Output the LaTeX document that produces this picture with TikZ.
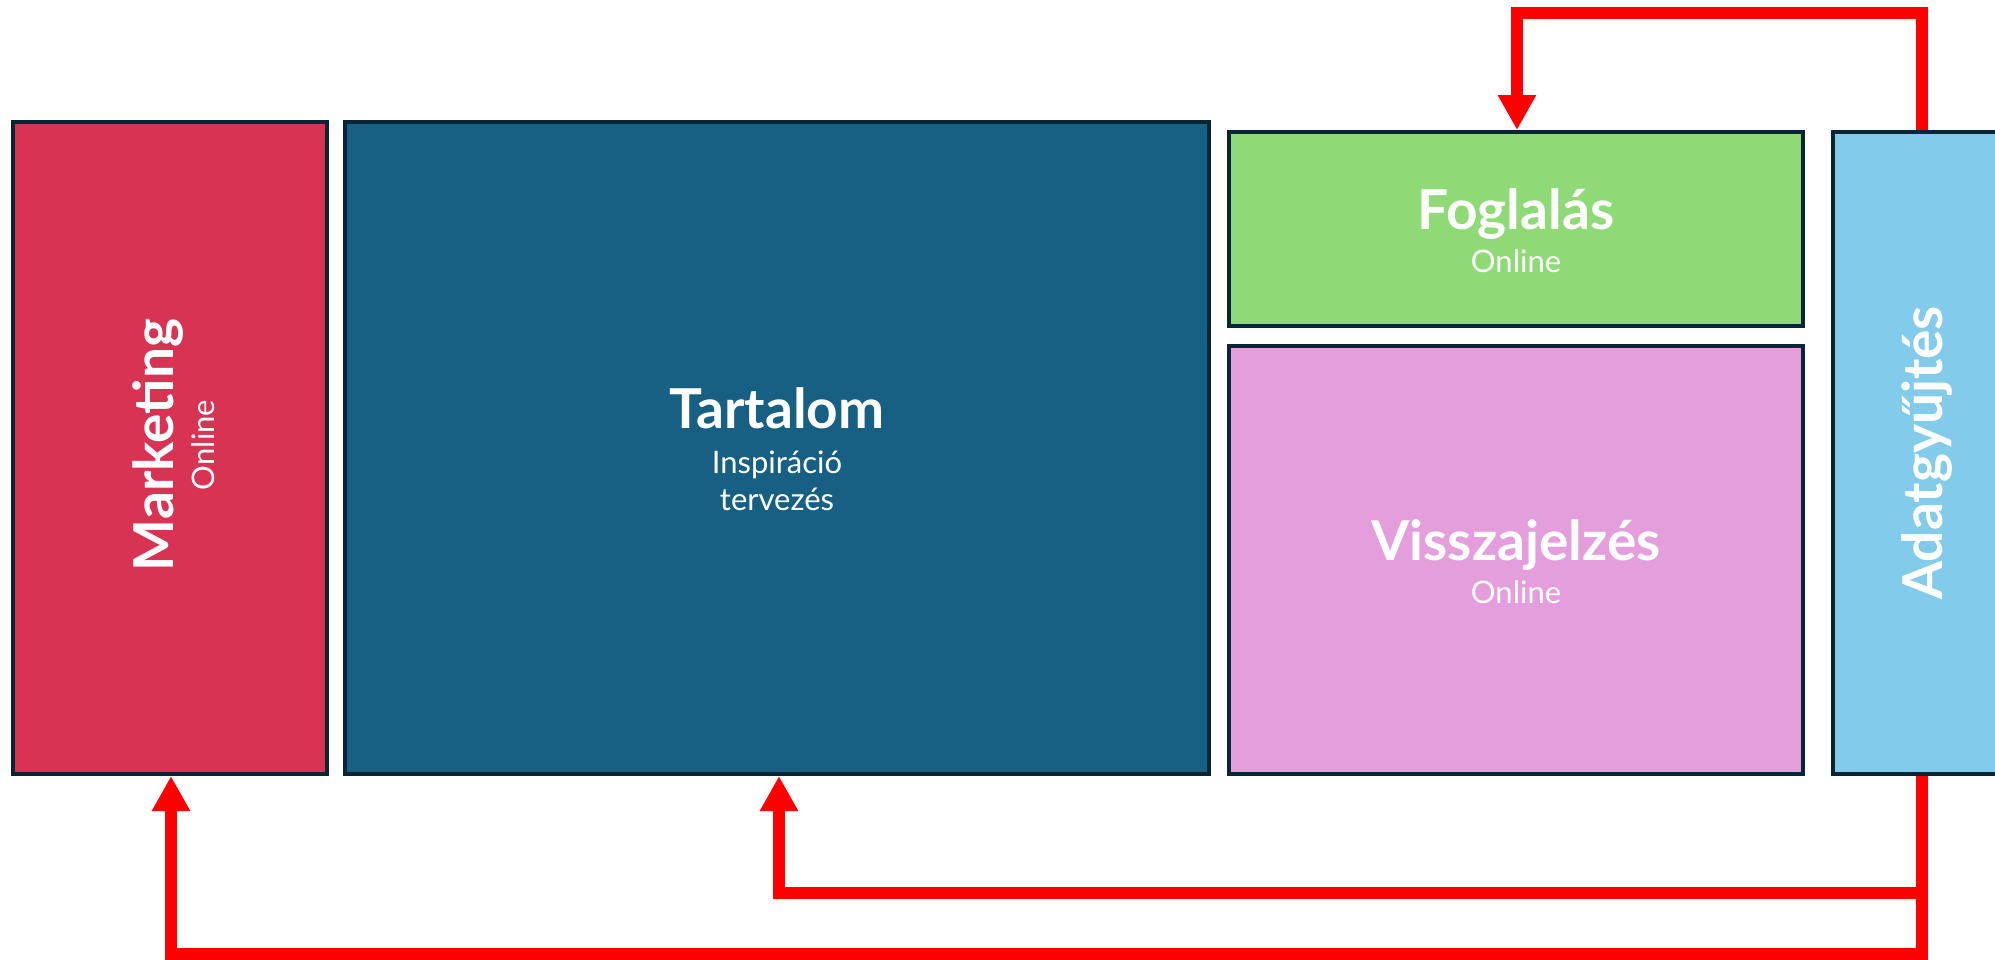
\documentclass[tikz,border=0pt]{standalone}
\usepackage{fontspec}
\setmainfont{Lato}
\usetikzlibrary{arrows.meta}
\definecolor{mktred}{HTML}{D93354}
\definecolor{tealblue}{HTML}{176084}
\definecolor{leafgreen}{HTML}{8FDA77}
\definecolor{orchid}{HTML}{E49EDC}
\definecolor{skyblue}{HTML}{83CBEA}
\definecolor{edgenavy}{HTML}{082535}
\begin{document}
\begin{tikzpicture}[x=1pt,y=-1pt,
  panel/.style={draw=edgenavy, line width=4pt, inner sep=0pt, rectangle},
  title/.style={font=\fontsize{55}{66}\selectfont\bfseries, text=white, anchor=base, inner sep=0pt},
  sub/.style={font=\fontsize{31}{37}\selectfont, text=white, anchor=base, inner sep=0pt},
  flow/.style={draw=red, line width=12pt, -{Triangle[length=35pt,width=36pt]}}]
\useasboundingbox (0,0) rectangle (1995,959);
\clip (0,0) rectangle (1995,959);

% panels
\node[panel, fill=mktred, minimum width=314pt, minimum height=652pt] (mkt) at (170,448) {};
\node[panel, fill=tealblue, minimum width=864pt, minimum height=652pt] (tart) at (777,448) {};
\node[panel, fill=leafgreen, minimum width=574pt, minimum height=194pt] (fogl) at (1516,229) {};
\node[panel, fill=orchid, minimum width=574pt, minimum height=428pt] (vissza) at (1516,560) {};
\node[panel, fill=skyblue, minimum width=184pt, minimum height=642pt] (adat) at (1925,453) {};

% labels
\node[title, rotate=90] (mktT) at (173,445) {Marketing};
\node[sub, rotate=90] (mktS) at (214,445) {Online};
\node[title] (tartT) at (777,428) {Tartalom};
\node[sub] (tartS1) at (777,473) {Inspiráció};
\node[sub] (tartS2) at (777,510) {tervezés};
\node[title] (foglT) at (1516,229) {Foglalás};
\node[sub] (foglS) at (1516,272) {Online};
\node[title] (visszaT) at (1516,560) {Visszajelzés};
\node[sub] (visszaS) at (1516,603) {Online};
\node[title, rotate=90] (adatT) at (1942,453) {Adatgyűjtés};

% feedback connectors
\coordinate (topR) at (1922,13);
\coordinate (topL) at (1517,13);
\coordinate (midR) at (1922,893);
\coordinate (midL) at (779,893);
\coordinate (lowR) at (1922,954);
\coordinate (lowL) at (171,954);
\draw[flow] ([xshift=-3pt]adat.north) -- (topR) -- (topL) -- ([xshift=1pt]fogl.north);
\draw[flow] ([xshift=-3pt]adat.south) -- (lowR) -- (lowL) -- ([xshift=1pt]mkt.south);
\draw[flow] ([xshift=-3pt]adat.south) -- (midR) -- (midL) -- ([xshift=2pt]tart.south);
\end{tikzpicture}
\end{document}
